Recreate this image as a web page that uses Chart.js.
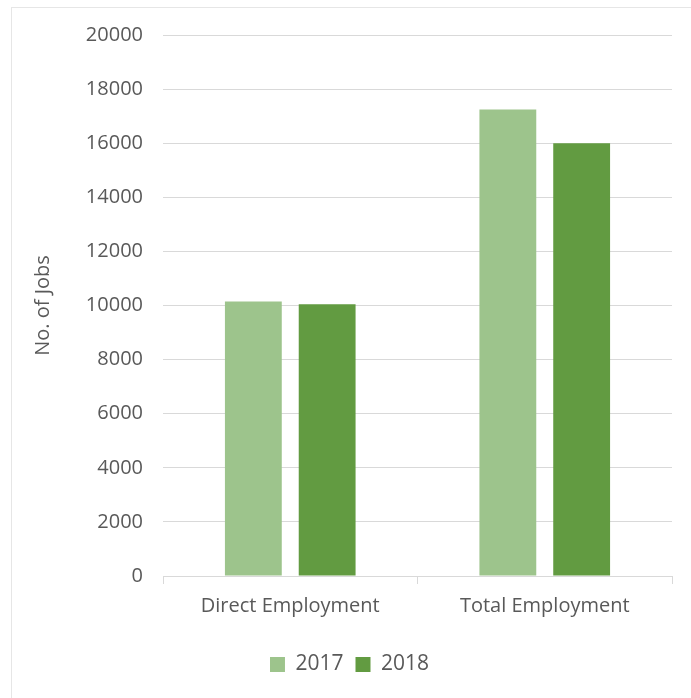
<!DOCTYPE html>
<html>
<head>
<meta charset="utf-8">
<script src="https://cdn.jsdelivr.net/npm/chart.js@4/dist/chart.umd.min.js"></script>
<style>
  html, body { margin: 0; padding: 0; background: #fff; }
  #wrap { position: relative; width: 691px; height: 698px; }
  #frame { position: absolute; left: 11px; top: 7px; width: 700px; height: 720px;
           border-left: 1px solid #e6e6e6; border-top: 1px solid #e6e6e6; }
  canvas { position: absolute; left: 0; top: 0; }
</style>
</head>
<body>
<div id="wrap">
  <div id="frame"></div>
  <canvas id="jobs-chart" width="691" height="698"></canvas>
</div>
<script>
const categories = ['Direct Employment', 'Total Employment'];
const jobs2017 = [10150, 17250];
const jobs2018 = [10050, 16000];
const yTicks = [0, 2000, 4000, 6000, 8000, 10000, 12000, 14000, 16000, 18000, 20000];

const ctx = document.getElementById('jobs-chart').getContext('2d');
const fontFamily = '"Open Sans", "Noto Sans", sans-serif';

new Chart(ctx, {
    type: 'bar',
    data: {
        labels: categories,
        datasets: [{
            label: '2017',
            data: jobs2017,
            backgroundColor: '#9dc48c'
        }, {
            label: '2018',
            data: jobs2018,
            backgroundColor: '#629b41'
        }]
    },
    options: {
        responsive: false,
        animation: false,
        datasets: {
            bar: { categoryPercentage: 0.58, barPercentage: 0.77 }
        },
        layout: { padding: { left: 27, right: 19, top: 35, bottom: 13 } },
        plugins: {
            tooltip: { enabled: false },
            legend: {
                position: 'bottom',
                labels: {
                    boxWidth: 15,
                    boxHeight: 15,
                    padding: 12,
                    color: '#595959',
                    font: { family: fontFamily, size: 21 }
                }
            }
        },
        scales: {
            x: {
                grid: { drawOnChartArea: false, color: '#d9d9d9', tickLength: 8 },
                border: { color: '#d9d9d9' },
                ticks: { color: '#595959', padding: 10, font: { family: fontFamily, size: 20 } },
                afterFit: function (scale) { scale.height = 66; }
            },
            y: {
                min: 0,
                max: 20000,
                afterBuildTicks: function (scale) {
                    scale.ticks = yTicks.map(v => ({ value: v }));
                },
                grid: { color: '#d9d9d9', drawTicks: false },
                border: { display: false },
                ticks: {
                    color: '#595959',
                    padding: 20,
                    font: { family: fontFamily, size: 20 },
                    callback: function (value) { return String(value); }
                },
                title: {
                    display: true,
                    text: 'No. of Jobs',
                    color: '#595959',
                    font: { family: fontFamily, size: 20 }
                },
                afterFit: function (scale) { scale.width = 136; }
            }
        }
    }
});
</script>
</body>
</html>
